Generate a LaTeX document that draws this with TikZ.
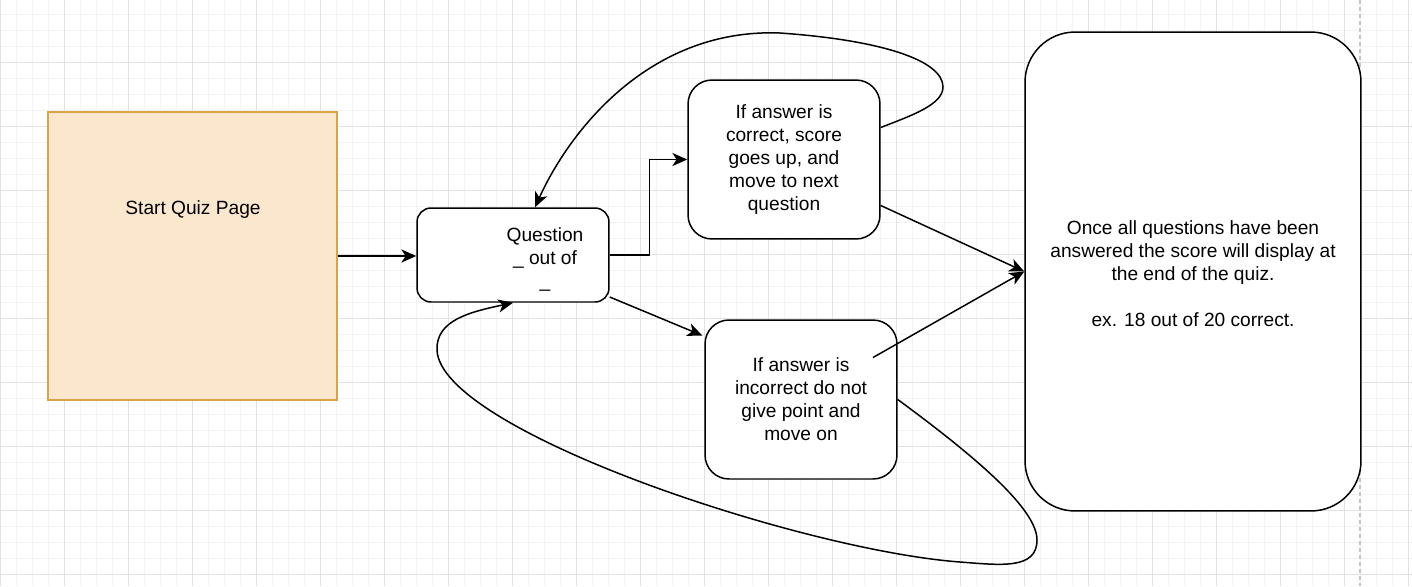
\documentclass[tikz,border=0pt]{standalone}
\usepackage{fontspec}
\setmainfont{Liberation Sans}
\usepackage{tikz}
\usetikzlibrary{arrows.meta,calc}
\definecolor{quizfill}{HTML}{FBE6CE}
\definecolor{quizline}{HTML}{D9A441}
\definecolor{gridminor}{HTML}{F3F3F3}
\definecolor{gridmajor}{HTML}{E2E2E2}
\definecolor{pageline}{HTML}{C4C4C4}

\begin{document}
\begin{tikzpicture}[x=0.02cm, y=-0.02cm,
    every node/.style={font=\fontsize{10.9}{13.1}\selectfont},
    stepbox/.style={draw, line width=0.85pt, fill=white, align=center},
    flow/.style={line width=0.85pt, -{Stealth[length=8.5pt, width=7.5pt, inset=2.4pt]}}]
            \useasboundingbox (0,0) rectangle (1412,586);
            \clip (0,0) rectangle (1412,586);

            \foreach \gx in {0,16,...,1408} \draw[gridminor, line width=0.55pt] (\gx,0) -- (\gx,586);
            \foreach \gy in {14,30,...,574} \draw[gridminor, line width=0.55pt] (0,\gy) -- (1412,\gy);
            \foreach \gx in {0,64,...,1408} \draw[gridmajor, line width=0.55pt] (\gx,0) -- (\gx,586);
            \foreach \gy in {62,126,...,574} \draw[gridmajor, line width=0.55pt] (0,\gy) -- (1412,\gy);
            \draw[pageline, line width=0.6pt, dash pattern=on 2.3pt off 1.7pt] (1360,0) -- (1360,586);

            \node[draw=quizline, fill=quizfill, line width=0.85pt, minimum width=5.78cm, minimum height=5.76cm] (start) at (192.5,256) {};
            \node (startlbl) at (193,210) {Start Quiz Page};

            \node[stepbox, rounded corners=0.28cm, minimum width=3.84cm, minimum height=1.88cm] (q) at (513,255) {};
            \node[align=center] (qtext) at (545,259) {Question\\\_ out of\\\_};

            \node[stepbox, rounded corners=0.48cm, minimum width=3.84cm, minimum height=3.18cm] (corr) at (784,159.5) {If answer is\\correct, score\\goes up, and\\move to next\\question};
            \node[stepbox, rounded corners=0.48cm, minimum width=3.84cm, minimum height=3.18cm] (inc) at (801,399.5) {If answer is\\incorrect do not\\give point and\\move on};

            \node[stepbox, rounded corners=1cm, minimum width=6.72cm, minimum height=9.58cm] (big) at (1193,271.5) {};
            \node[align=center] (bigtext) at (1193,274) {Once all questions have been\\answered the score will display at\\the end of the quiz.\\[13.1pt]ex. 18 out of 20 correct.};

            \draw[flow] (start.east) -- (start.east -| q.west);
            \draw[flow] (q.east) -- ++(40,0) |- (corr.west);
            \draw[flow] ($(q.east)+(0,42)$) -- ($(inc.west)+(-2,-64)$);
            \draw[flow] ($(corr.east)+(0,46)$) -- (big.west);
            \draw[flow] ($(inc.center)+(72,-42)$) -- (big.west);

            \draw[flow] ($(corr.east)+(0,-32)$) .. controls (910,116) and (943,105) .. (943,87)
                .. controls (943,60) and (880,40) .. (780,33)
                .. controls (650,28) and (570,130) .. ($(q.north)+(22,0)$);
            \draw[flow] (inc.east) .. controls (980,460) and (1037,510) .. (1037,540)
                .. controls (1037,570) and (1000,565) .. (960,562)
                .. controls (800,550) and (440,430) .. (437,350)
                .. controls (436,320) and (470,312) .. (q.south);
        \end{tikzpicture}
\end{document}
